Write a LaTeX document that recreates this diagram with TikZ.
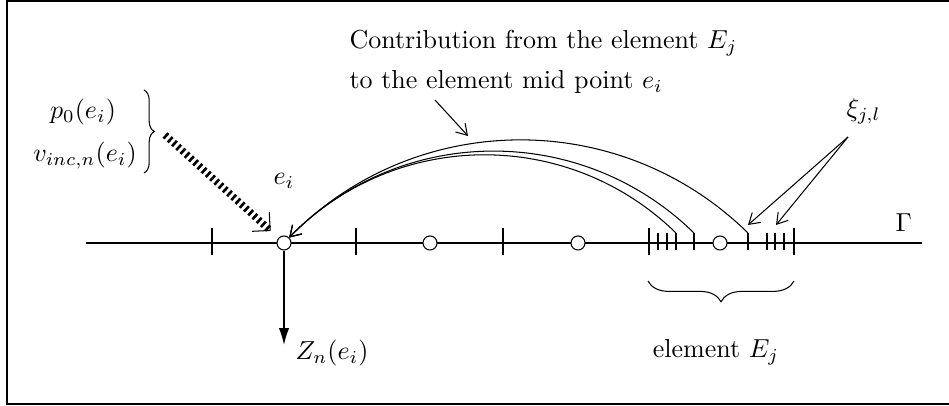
\documentclass[tikz,border=0pt]{standalone}
\usepackage{tikz}
\usetikzlibrary{arrows.meta,positioning,decorations.pathreplacing}
\tikzset{
  midpt/.style={circle, draw, fill=white, inner sep=0pt, minimum size=5.4pt},
  ptr/.style={-{Straight Barb[length=4pt,width=5pt]}},
  contrib/.style={ptr, bend right=45},
  hatched/.style={line width=2.8pt, dash pattern=on 1pt off 1.2pt,
    -{Straight Barb[length=5pt,width=10pt,line width=0.4pt]}, shorten >=4pt},
  normal/.style={line width=0.6pt, -{Latex[length=6.5pt,width=4pt]}},
  lbl/.style={inner sep=0pt, anchor=base west},
  brc/.style={decorate, decoration={brace, amplitude=#1}}
}
\begin{document}
\begin{tikzpicture}[x=0.3846pt,y=0.3846pt]
    \clip (0,0) rectangle (949,406);
    \draw[line width=0.8pt] (7,2) rectangle (970,405);
    % boundary and elements
    \draw (86,163) -- (922,163);
    \node[lbl] (gam) at (895,174) {$\Gamma$};
    \foreach \x in {212,356,503,649,794} \draw (\x,151) -- (\x,178);
    \foreach \x in {658,667,676,694,748,767,775,784} \draw (\x,156) -- (\x,173);
    \node[midpt] (ei) at (284,163) {};
    \node[midpt] (m2) at (430,163) {};
    \node[midpt] (m3) at (578,163) {};
    \node[midpt] (m4) at (720,163) {};
    \node[lbl] (eilab) at (273,221) {$e_i$};
    % contributions of the gauss points
    \coordinate (g1) at (676,173);
    \coordinate (g2) at (694,173);
    \coordinate (g3) at (748,173);
    \draw[contrib] (g1) to (ei);
    \draw[contrib] (g2) to (ei);
    \draw[contrib] (g3) to (ei);
    \node[lbl] (c1) at (349,357) {Contribution from the element $E_j$};
    \node[lbl] (c2) at (349,317) {to the element mid point $e_i$};
    \coordinate (cfrom) at (435,306);
    \coordinate (cto) at (468,270);
    \draw[ptr] (cfrom) -- (cto);
    % gauss point label
    \node[lbl] (xi) at (846,289) {$\xi_{j,l}$};
    \coordinate (xfrom) at (848,269);
    \coordinate (x1) at (748,181);
    \coordinate (x2) at (776,181);
    \draw[ptr] (xfrom) -- (x1);
    \draw[ptr] (xfrom) -- (x2);
    % incident field
    \node[lbl, anchor=base] (pz) at (83,287) {$p_0(e_i)$};
    \node[lbl, anchor=base] (vinc) at (85,244) {$v_{inc,n}(e_i)$};
    \draw[brc=4pt] (144,316) -- (144,233);
    \coordinate (inc) at (165,271);
    \draw[hatched] (inc) -- (ei);
    % impedance
    \coordinate (zend) at (284,61);
    \draw[normal] (ei) -- (zend);
    \node[lbl] (zn) at (295,46) {$Z_n(e_i)$};
    % element brace
    \draw[brc=8pt] (794,125) -- (648,125);
    \node[lbl, anchor=base] (elab) at (716,48) {element $E_j$};
\end{tikzpicture}
\end{document}
